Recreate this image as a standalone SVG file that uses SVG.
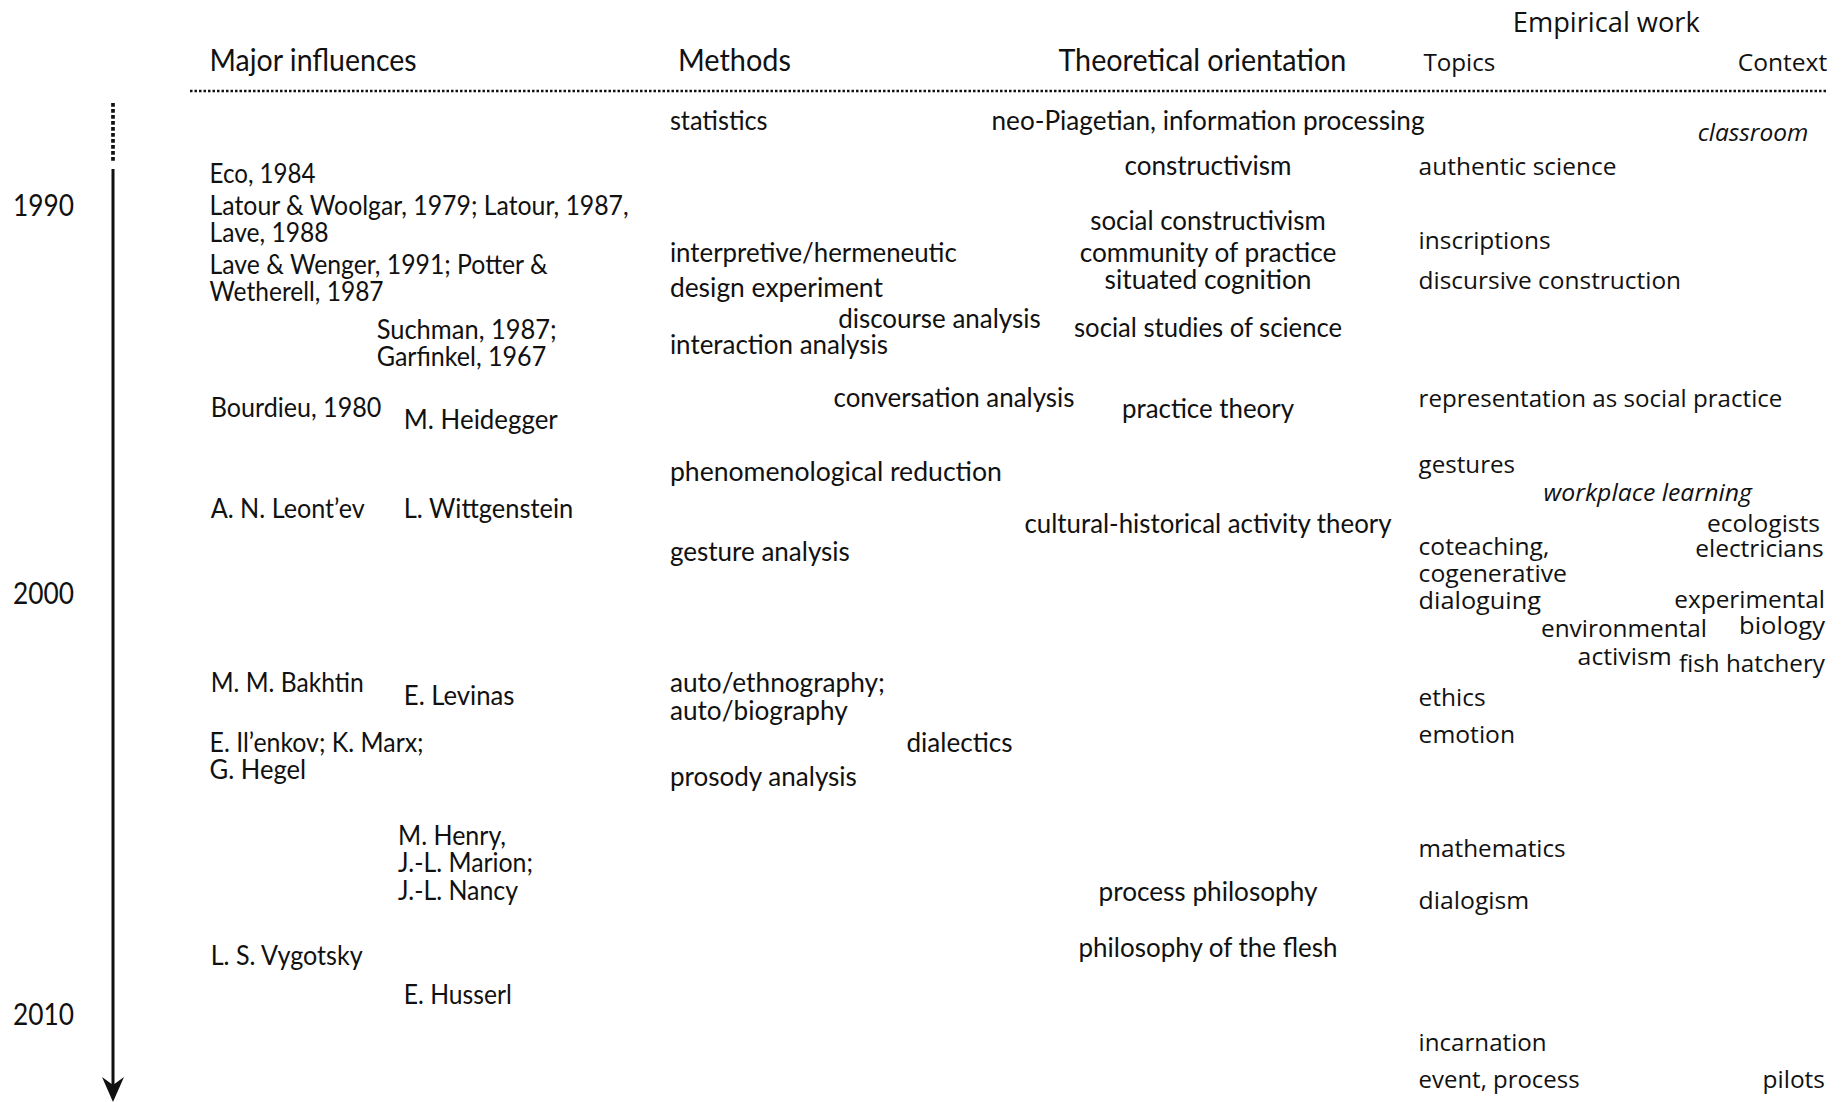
<svg xmlns="http://www.w3.org/2000/svg" width="1846" height="1102" viewBox="0 0 1846 1102">
<defs>
<style>
text{fill:#111;}
.h{font-family:Lato,"Liberation Sans",sans-serif;font-size:30px;}
.b{font-family:Lato,"Liberation Sans",sans-serif;font-size:27px;}
.y{font-family:Lato,"Liberation Sans",sans-serif;font-size:30px;}
.t{font-family:"Open Sans","Liberation Sans",sans-serif;font-size:24.3px;}
.th{font-family:"Open Sans","Liberation Sans",sans-serif;font-size:24.5px;}
.te{font-family:"Open Sans","Liberation Sans",sans-serif;font-size:27px;}
.i{font-style:italic;}
.m{text-anchor:middle;}
.e{text-anchor:end;}
.dot{stroke:#111;stroke-width:2.5;stroke-dasharray:2.5 2;fill:none;}
.vdot{stroke:#111;stroke-width:3.7;stroke-dasharray:3.7 2.3;fill:none;}
.axis{stroke:#111;stroke-width:3;fill:none;}
</style>
<marker id="arr" markerUnits="userSpaceOnUse" markerWidth="26" markerHeight="24" refX="8" refY="11" orient="auto">
<path d="M0,0 L25,11 L0,22 L8,11 z" fill="#111"/>
</marker>
</defs>
<rect width="1846" height="1102" fill="#fff"/>

<g id="headers">
<text class="h" x="209.6" y="71" textLength="207" lengthAdjust="spacingAndGlyphs">Major influences</text>
<text class="h" x="678" y="71" textLength="113" lengthAdjust="spacingAndGlyphs">Methods</text>
<text class="h" x="1058.4" y="71" textLength="288" lengthAdjust="spacingAndGlyphs">Theoretical orientation</text>
<text class="te" x="1512.8" y="32" textLength="187" lengthAdjust="spacingAndGlyphs">Empirical work</text>
<text class="th" x="1423.4" y="71" textLength="72" lengthAdjust="spacingAndGlyphs">Topics</text>
<text class="th" x="1737.7" y="71" textLength="89.5" lengthAdjust="spacingAndGlyphs">Context</text>
<line class="dot" x1="190" y1="91" x2="1827" y2="91"/>
</g>

<g id="years">
<text class="y" x="13" y="216" textLength="61" lengthAdjust="spacingAndGlyphs">1990</text>
<text class="y" x="13" y="604" textLength="61" lengthAdjust="spacingAndGlyphs">2000</text>
<text class="y" x="13" y="1025" textLength="61" lengthAdjust="spacingAndGlyphs">2010</text>
</g>

<g id="connectors">
<line class="vdot" x1="113" y1="103" x2="113" y2="163"/>
<line class="axis" x1="113" y1="169" x2="113" y2="1085" marker-end="url(#arr)"/>
</g>

<g id="influences">
<g id="n-eco"><text class="b" x="209.6" y="183" textLength="106" lengthAdjust="spacingAndGlyphs">Eco, 1984</text></g>
<g id="n-latour">
<text class="b" x="209.6" y="215" textLength="419" lengthAdjust="spacingAndGlyphs">Latour &amp; Woolgar, 1979; Latour, 1987,</text>
<text class="b" x="209.6" y="242" textLength="119" lengthAdjust="spacingAndGlyphs">Lave, 1988</text>
</g>
<g id="n-lave">
<text class="b" x="209.6" y="274" textLength="338" lengthAdjust="spacingAndGlyphs">Lave &amp; Wenger, 1991; Potter &amp;</text>
<text class="b" x="209.6" y="301" textLength="174" lengthAdjust="spacingAndGlyphs">Wetherell, 1987</text>
</g>
<g id="n-suchman">
<text class="b" x="376.7" y="339" textLength="180" lengthAdjust="spacingAndGlyphs">Suchman, 1987;</text>
<text class="b" x="376.7" y="366" textLength="169.5" lengthAdjust="spacingAndGlyphs">Garfinkel, 1967</text>
</g>
<g id="n-bourdieu"><text class="b" x="210.7" y="417" textLength="170.7" lengthAdjust="spacingAndGlyphs">Bourdieu, 1980</text></g>
<g id="n-heidegger"><text class="b" x="403.8" y="429" textLength="154" lengthAdjust="spacingAndGlyphs">M. Heidegger</text></g>
<g id="n-leontev"><text class="b" x="210.7" y="518" textLength="154" lengthAdjust="spacingAndGlyphs">A. N. Leont’ev</text></g>
<g id="n-wittgenstein"><text class="b" x="403.8" y="518" textLength="169.5" lengthAdjust="spacingAndGlyphs">L. Wittgenstein</text></g>
<g id="n-bakhtin"><text class="b" x="210.7" y="692" textLength="153" lengthAdjust="spacingAndGlyphs">M. M. Bakhtin</text></g>
<g id="n-levinas"><text class="b" x="403.8" y="705" textLength="110.7" lengthAdjust="spacingAndGlyphs">E. Levinas</text></g>
<g id="n-ilenkov">
<text class="b" x="209.6" y="752" textLength="214" lengthAdjust="spacingAndGlyphs">E. Il’enkov; K. Marx;</text>
<text class="b" x="209.6" y="779" textLength="96.5" lengthAdjust="spacingAndGlyphs">G. Hegel</text>
</g>
<g id="n-henry">
<text class="b" x="398" y="845" textLength="108" lengthAdjust="spacingAndGlyphs">M. Henry,</text>
<text class="b" x="398" y="872" textLength="135" lengthAdjust="spacingAndGlyphs">J.-L. Marion;</text>
<text class="b" x="398" y="900" textLength="120" lengthAdjust="spacingAndGlyphs">J.-L. Nancy</text>
</g>
<g id="n-vygotsky"><text class="b" x="210.7" y="965" textLength="152" lengthAdjust="spacingAndGlyphs">L. S. Vygotsky</text></g>
<g id="n-husserl"><text class="b" x="403.8" y="1004" textLength="108" lengthAdjust="spacingAndGlyphs">E. Husserl</text></g>
</g>

<g id="methods">
<g id="m-statistics"><text class="b" x="669.9" y="130" textLength="97.7" lengthAdjust="spacingAndGlyphs">statistics</text></g>
<g id="m-interpretive"><text class="b" x="669.9" y="262" textLength="287" lengthAdjust="spacingAndGlyphs">interpretive/hermeneutic</text></g>
<g id="m-design"><text class="b" x="669.9" y="297" textLength="213" lengthAdjust="spacingAndGlyphs">design experiment</text></g>
<g id="m-discourse"><text class="b" x="838.2" y="328" textLength="202.5" lengthAdjust="spacingAndGlyphs">discourse analysis</text></g>
<g id="m-interaction"><text class="b" x="669.9" y="354" textLength="218" lengthAdjust="spacingAndGlyphs">interaction analysis</text></g>
<g id="m-conversation"><text class="b" x="833.5" y="407" textLength="241" lengthAdjust="spacingAndGlyphs">conversation analysis</text></g>
<g id="m-phenomenological"><text class="b" x="669.9" y="481" textLength="332" lengthAdjust="spacingAndGlyphs">phenomenological reduction</text></g>
<g id="m-gesture"><text class="b" x="669.9" y="561" textLength="180" lengthAdjust="spacingAndGlyphs">gesture analysis</text></g>
<g id="m-auto">
<text class="b" x="669.9" y="692" textLength="215" lengthAdjust="spacingAndGlyphs">auto/ethnography;</text>
<text class="b" x="669.9" y="720" textLength="177.8" lengthAdjust="spacingAndGlyphs">auto/biography</text>
</g>
<g id="m-dialectics"><text class="b" x="906.5" y="752" textLength="106" lengthAdjust="spacingAndGlyphs">dialectics</text></g>
<g id="m-prosody"><text class="b" x="669.9" y="786" textLength="187" lengthAdjust="spacingAndGlyphs">prosody analysis</text></g>
</g>

<g id="theory">
<g id="t-neo"><text class="b m" x="1208" y="130" textLength="433" lengthAdjust="spacingAndGlyphs">neo-Piagetian, information processing</text></g>
<g id="t-constructivism"><text class="b m" x="1208" y="175" textLength="167" lengthAdjust="spacingAndGlyphs">constructivism</text></g>
<g id="t-social-constructivism"><text class="b m" x="1208" y="230" textLength="235.5" lengthAdjust="spacingAndGlyphs">social constructivism</text></g>
<g id="t-community"><text class="b m" x="1208" y="262" textLength="256.7" lengthAdjust="spacingAndGlyphs">community of practice</text></g>
<g id="t-situated"><text class="b m" x="1208" y="289" textLength="207" lengthAdjust="spacingAndGlyphs">situated cognition</text></g>
<g id="t-sss"><text class="b m" x="1208" y="337" textLength="268" lengthAdjust="spacingAndGlyphs">social studies of science</text></g>
<g id="t-practice"><text class="b m" x="1208" y="418" textLength="172" lengthAdjust="spacingAndGlyphs">practice theory</text></g>
<g id="t-chat"><text class="b m" x="1208" y="533" textLength="367" lengthAdjust="spacingAndGlyphs">cultural-historical activity theory</text></g>
<g id="t-process"><text class="b m" x="1208" y="901" textLength="219" lengthAdjust="spacingAndGlyphs">process philosophy</text></g>
<g id="t-flesh"><text class="b m" x="1208" y="957" textLength="259" lengthAdjust="spacingAndGlyphs">philosophy of the flesh</text></g>
</g>

<g id="topics">
<g id="p-authentic"><text class="t" x="1418.6" y="175" textLength="197.8" lengthAdjust="spacingAndGlyphs">authentic science</text></g>
<g id="p-inscriptions"><text class="t" x="1418.6" y="249" textLength="132" lengthAdjust="spacingAndGlyphs">inscriptions</text></g>
<g id="p-discursive"><text class="t" x="1418.6" y="289" textLength="262.5" lengthAdjust="spacingAndGlyphs">discursive construction</text></g>
<g id="p-representation"><text class="t" x="1418.6" y="407" textLength="363.8" lengthAdjust="spacingAndGlyphs">representation as social practice</text></g>
<g id="p-gestures"><text class="t" x="1418.6" y="473" textLength="96.5" lengthAdjust="spacingAndGlyphs">gestures</text></g>
<g id="p-coteaching">
<text class="t" x="1418.6" y="555" textLength="130.7" lengthAdjust="spacingAndGlyphs">coteaching,</text>
<text class="t" x="1418.6" y="582" textLength="148.3" lengthAdjust="spacingAndGlyphs">cogenerative</text>
<text class="t" x="1418.6" y="609" textLength="122.4" lengthAdjust="spacingAndGlyphs">dialoguing</text>
</g>
<g id="p-ethics"><text class="t" x="1418.6" y="706" textLength="67" lengthAdjust="spacingAndGlyphs">ethics</text></g>
<g id="p-emotion"><text class="t" x="1418.6" y="743" textLength="96.5" lengthAdjust="spacingAndGlyphs">emotion</text></g>
<g id="p-mathematics"><text class="t" x="1418.6" y="857" textLength="147" lengthAdjust="spacingAndGlyphs">mathematics</text></g>
<g id="p-dialogism"><text class="t" x="1418.6" y="909" textLength="110.7" lengthAdjust="spacingAndGlyphs">dialogism</text></g>
<g id="p-incarnation"><text class="t" x="1418.6" y="1051" textLength="128" lengthAdjust="spacingAndGlyphs">incarnation</text></g>
<g id="p-event"><text class="t" x="1418.6" y="1088" textLength="161" lengthAdjust="spacingAndGlyphs">event, process</text></g>
</g>

<g id="context">
<g id="c-classroom"><text class="t i" x="1697.7" y="141" textLength="110.7" lengthAdjust="spacingAndGlyphs">classroom</text></g>
<g id="c-workplace"><text class="t i" x="1543.5" y="501" textLength="208.4" lengthAdjust="spacingAndGlyphs">workplace learning</text></g>
<g id="c-ecologists"><text class="t e" x="1820" y="532" textLength="113" lengthAdjust="spacingAndGlyphs">ecologists</text></g>
<g id="c-electricians"><text class="t e" x="1823.6" y="557" textLength="128.3" lengthAdjust="spacingAndGlyphs">electricians</text></g>
<g id="c-experimental">
<text class="t e" x="1825" y="608" textLength="150.7" lengthAdjust="spacingAndGlyphs">experimental</text>
<text class="t e" x="1825" y="634" textLength="86" lengthAdjust="spacingAndGlyphs">biology</text>
</g>
<g id="c-environmental">
<text class="t m" x="1624" y="637" textLength="166" lengthAdjust="spacingAndGlyphs">environmental</text>
<text class="t m" x="1624.7" y="665" textLength="94.2" lengthAdjust="spacingAndGlyphs">activism</text>
</g>
<g id="c-fish"><text class="t e" x="1825" y="672" textLength="146" lengthAdjust="spacingAndGlyphs">fish hatchery</text></g>
<g id="c-pilots"><text class="t e" x="1825" y="1088" textLength="62.4" lengthAdjust="spacingAndGlyphs">pilots</text></g>
</g>
</svg>
